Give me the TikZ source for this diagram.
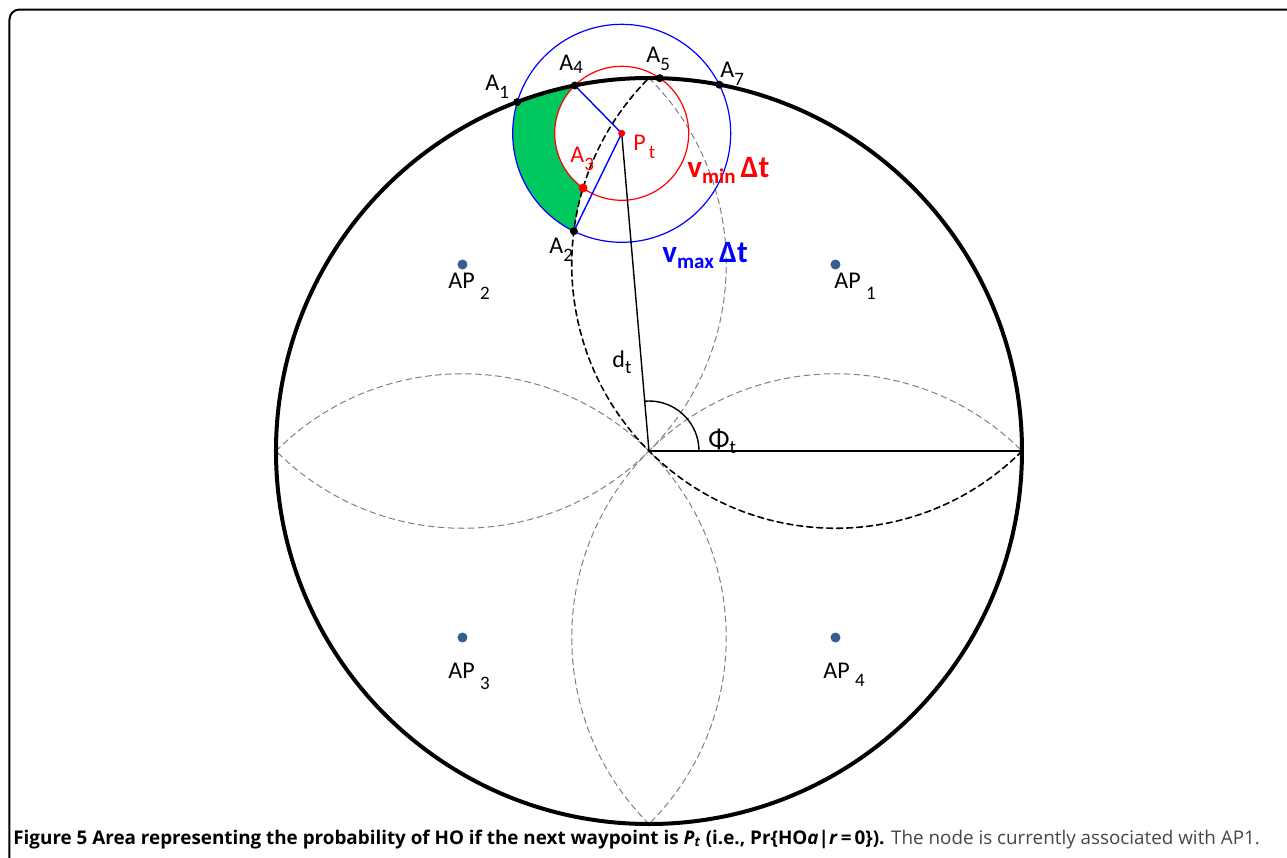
\documentclass[tikz,border=0pt]{standalone}
\usepackage{fontspec}
\setmainfont{Carlito}
\newfontfamily\capfont{Open Sans}

\definecolor{apcolor}{RGB}{56,94,145}
\definecolor{hogreen}{RGB}{0,200,95}
\definecolor{capgray}{RGB}{70,70,70}

% subindice rebajado
\newcommand{\lowsub}[2][4pt]{\raisebox{-#1}{\fontsize{9.5}{10}\selectfont #2}}

\begin{document}
\begin{tikzpicture}[line cap=round, line join=round, x=0.5pt, y=0.5pt,
		lbl/.style={inner sep=0pt, anchor=base west, font=\fontsize{12}{14}\selectfont},
		petal/.style={dash pattern=on 3pt off 2pt, line width=0.5pt, color=black!50},
		hoarc/.style={dash pattern=on 3pt off 2pt, line width=0.8pt, color=black}]
		
		% Ventana de dibujo
		\useasboundingbox (-649,-407) rectangle (638,451);
		\draw[line width=1pt, rounded corners=5pt] (-639.5,-430) -- (-639.5,441.5) -- (660,441.5);
		
		% Puntos principales
		\def\rap{263.75}
		\coordinate (O) at (0,0);
		\coordinate (E) at (373,0);
		\coordinate (P) at (-27.3,317.7);
		\coordinate (AP1) at (186.5,186.5);
		\coordinate (AP2) at (-186.5,186.5);
		\coordinate (AP3) at (-186.5,-186.5);
		\coordinate (AP4) at (186.5,-186.5);
		
		% Intersecciones A_i
		\coordinate (A1) at (110.69:373);
		\coordinate (A4) at (101.47:373);
		\coordinate (A5) at (88.35:373);
		\coordinate (A7) at (79.13:373);
		\coordinate (A3) at (-65.9,263.0);
		\coordinate (A2) at (-75.1,219.8);
		
		% Area de HO (verde)
		\fill[hogreen] (A1) arc[start angle=110.69, end angle=101.47, radius=373]
			arc[start angle=134.46, end angle=234.79, radius=67]
			arc[start angle=163.14, end angle=172.74, radius=\rap]
			arc[start angle=243.97, end angle=163.33, radius=109] -- cycle;
		
		% Petalos de los AP
		\foreach \c/\s in {AP2/45, AP3/135, AP4/225}
		\draw[petal] (\c) ++(\s:\rap) arc[start angle=\s, delta angle=-180, radius=\rap];
		\draw[hoarc] (AP1) ++(315:\rap) arc[start angle=315, delta angle=-180, radius=\rap];
		
		% Circulos v_min y v_max
		\draw[red, line width=0.6pt] (P) circle[radius=67];
		\draw[blue, line width=0.6pt] (P) circle[radius=109];
		
		% d_t, eje y angulo
		\draw[line width=0.7pt] (O) -- (P);
		\draw[line width=0.7pt] (O) -- (E);
		\draw[line width=0.7pt] (O) ++(0:50) arc[start angle=0, end angle=94.91, radius=50];
		\draw[blue, line width=0.7pt] (P) -- (A4);
		\draw[blue, line width=0.7pt] (P) -- (A2);
		
		% Circulo de cobertura
		\draw[line width=2pt] (O) circle[radius=373];
		
		% Puntos
		\foreach \p in {A1, A2, A4, A5, A7}
		\fill (\p) circle (4);
		\fill[red] (A3) circle (4.5);
		\fill[red] (P) circle (3.5);
		\foreach \p in {AP1, AP2, AP3, AP4}
		\fill[apcolor] (\p) circle (5);
		
		% Etiquetas
		\node[lbl] (lA1) at (-164,361) {A\lowsub{1}};
		\node[lbl] (lA4) at (-90,381) {A\lowsub[2pt]{4}};
		\node[lbl] (lA5) at (-3,389) {A\lowsub{5}};
		\node[lbl] (lA7) at (71,374) {A\lowsub{7}};
		\node[lbl, red] (lA3) at (-79,289) {A\lowsub{3}};
		\node[lbl] (lA2) at (-100,198) {A\lowsub{2}};
		\node[lbl, red] (lP) at (-16,301) {P\lowsub{\,t}};
		\node[lbl, red, font=\fontsize{15.5}{17}\selectfont\bfseries] (lvmin) at (38,274) {v\raisebox{-3pt}{\fontsize{10.5}{11}\selectfont min}\,Δt};
		\node[lbl, blue, font=\fontsize{15.5}{17}\selectfont\bfseries] (lvmax) at (13,189) {v\raisebox{-3pt}{\fontsize{10.5}{11}\selectfont max}\,Δt};
		\node[lbl] (ld) at (-37,84) {d\lowsub[3pt]{t}};
		\node[lbl, font=\fontsize{14}{16}\selectfont] (lphi) at (59,3) {Φ\lowsub[2.5pt]{t}};
		
		\node[lbl] (lAP1) at (185,163) {AP \lowsub[5.5pt]{1}};
		\node[lbl] (lAP2) at (-201,163) {AP \lowsub[5.5pt]{2}};
		\node[lbl] (lAP3) at (-201,-227) {AP \lowsub[5.5pt]{3}};
		\node[lbl] (lAP4) at (174,-227) {AP \lowsub[4pt]{4}};
		
		% Pie de figura
		\node[anchor=base west, inner sep=0pt, font=\capfont\fontsize{9.42}{11}\selectfont] (cap) at (-636,-393)
			{\textbf{Figure 5 Area representing the probability of HO if the next waypoint is \textit{P\textsubscript{t}} (i.e., Pr\{HO\textit{a}|\textit{r}\,=\,0\}).} {\color{capgray}The node is currently associated with AP1.}};
		
	\end{tikzpicture}
\end{document}
